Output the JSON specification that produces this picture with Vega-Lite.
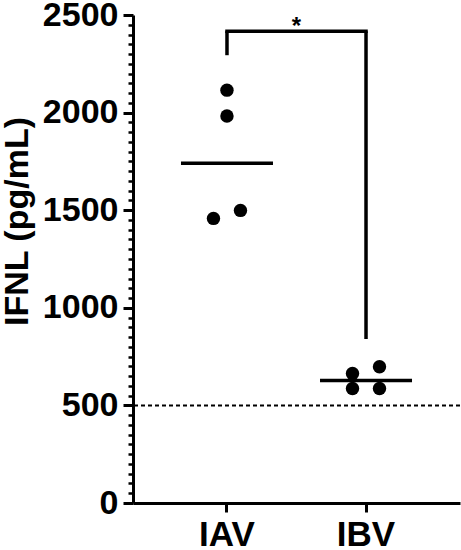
{
  "$schema": "https://vega.github.io/schema/vega-lite/v6.json",
  "width": 327,
  "height": 488,
  "autosize": {"type": "none"},
  "padding": {"left": 133, "top": 15, "right": 1, "bottom": 47},
  "background": "white",
  "config": {
    "view": {"stroke": null},
    "font": "Liberation Sans"
  },
  "datasets": {
    "points": [
      {"group": "IAV", "col": "C", "value": 2115},
      {"group": "IAV", "col": "C", "value": 1983},
      {"group": "IAV", "col": "L", "value": 1458},
      {"group": "IAV", "col": "R", "value": 1499},
      {"group": "IBV", "col": "L", "value": 664},
      {"group": "IBV", "col": "R", "value": 698},
      {"group": "IBV", "col": "L", "value": 587},
      {"group": "IBV", "col": "R", "value": 587}
    ],
    "means": [
      {"group": "IAV", "value": 1741},
      {"group": "IBV", "value": 628}
    ],
    "bracketH": [
      {"group": "IAV", "to": "IBV", "value": 2417}
    ],
    "bracketV": [
      {"group": "IAV", "value": 2417, "bottom": 2294},
      {"group": "IBV", "value": 2417, "bottom": 840}
    ],
    "sig": [
      {"group": "IAV", "value": 2440, "label": "*"}
    ]
  },
  "encoding": {
    "x": {
      "field": "group",
      "type": "nominal",
      "scale": {"domain": ["IAV", "IBV"], "paddingInner": 0.338, "paddingOuter": 0.345},
      "axis": {
        "title": null,
        "labelAngle": 0,
        "labelFont": "Liberation Sans",
        "labelFontWeight": "bold",
        "labelFontSize": 35,
        "labelColor": "black",
        "labelPadding": 5,
        "labelBaseline": "top",
        "domainColor": "black",
        "domainWidth": 3,
        "tickColor": "black",
        "tickWidth": 3,
        "tickSize": 9
      }
    },
    "y": {
      "field": "value",
      "type": "quantitative",
      "scale": {"domain": [0, 2500], "nice": false, "zero": true},
      "axis": {
        "title": "IFNL (pg/mL)",
        "titleFont": "Liberation Sans",
        "titleFontWeight": "bold",
        "titleFontSize": 34,
        "titleColor": "black",
        "titleAngle": 270,
        "titleAlign": "center",
        "titleBaseline": "middle",
        "titleX": -116,
        "titleY": 206,
        "values": [0, 50, 100, 150, 200, 250, 300, 350, 400, 450, 500, 550, 600, 650, 700, 750, 800, 850, 900, 950, 1000, 1050, 1100, 1150, 1200, 1250, 1300, 1350, 1400, 1450, 1500, 1550, 1600, 1650, 1700, 1750, 1800, 1850, 1900, 1950, 2000, 2050, 2100, 2150, 2200, 2250, 2300, 2350, 2400, 2450, 2500],
        "format": "d",
        "labelExpr": "datum.value % 500 === 0 ? datum.label : ''",
        "labelOverlap": false,
        "labelFont": "Liberation Sans",
        "labelFontWeight": "bold",
        "labelFontSize": 34,
        "labelColor": "black",
        "labelPadding": 5,
        "labelBound": false,
        "labelFlush": false,
        "domainColor": "black",
        "domainWidth": 3,
        "tickColor": "black",
        "tickWidth": {"condition": {"test": "datum.value % 500 === 0", "value": 3}, "value": 2.5},
        "tickSize": {"condition": {"test": "datum.value % 500 === 0", "value": 10}, "value": 5},
        "grid": false
      }
    }
  },
  "layer": [
    {
      "data": {"values": [{"value": 500}]},
      "mark": {"type": "rule", "strokeDash": [4, 3], "strokeWidth": 2, "color": "black"},
      "encoding": {"x": null}
    },
    {
      "data": {"name": "points"},
      "mark": {"type": "point", "filled": true, "shape": "circle", "size": 180, "color": "black", "opacity": 1},
      "encoding": {
        "xOffset": {
          "field": "col",
          "type": "nominal",
          "scale": {"type": "point", "domain": ["L", "C", "R"], "range": [32.5, 59.5], "padding": 0}
        }
      }
    },
    {
      "data": {"name": "means"},
      "mark": {"type": "tick", "size": 92, "thickness": 3.5, "color": "black", "opacity": 1, "orient": "horizontal"},
      "encoding": {}
    },
    {
      "data": {"name": "bracketH"},
      "mark": {"type": "rule", "strokeWidth": 3.5, "color": "black", "strokeCap": "square"},
      "encoding": {
        "x2": {"field": "to"}
      }
    },
    {
      "data": {"name": "bracketV"},
      "mark": {"type": "rule", "strokeWidth": 3.5, "color": "black"},
      "encoding": {
        "y2": {"field": "bottom"}
      }
    },
    {
      "data": {"name": "sig"},
      "mark": {"type": "text", "fontSize": 24, "fontWeight": "bold", "color": "black", "dx": 69.5, "baseline": "middle", "align": "center"},
      "encoding": {
        "text": {"field": "label"}
      }
    }
  ]
}
